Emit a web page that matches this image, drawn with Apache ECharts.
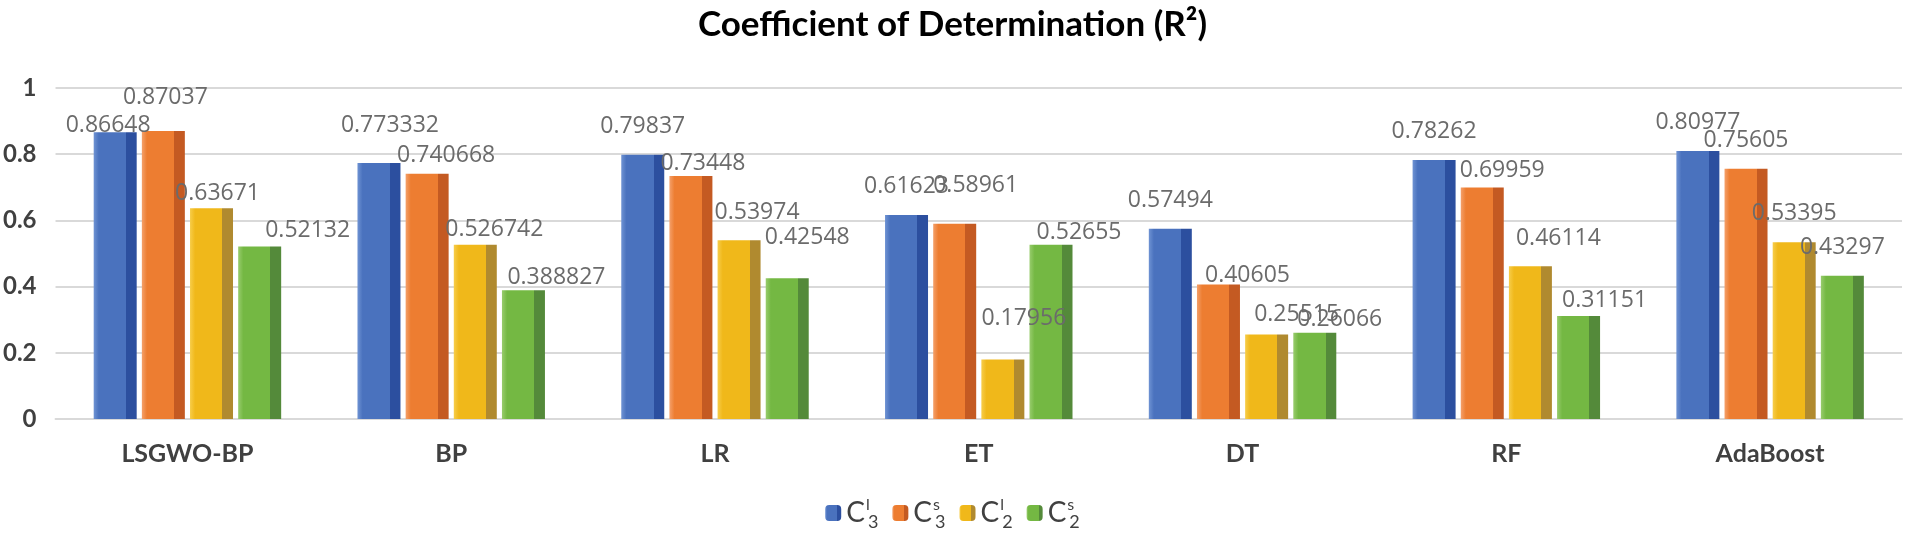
<!DOCTYPE html>
<html><head><meta charset="utf-8">
<script src="https://cdn.jsdelivr.net/npm/echarts@6/dist/echarts.min.js"></script>
<style>html,body{margin:0;padding:0;background:#fff}#c{width:1905px;height:536px}</style>
</head><body><div id="c"></div>
<script>
const categories = ['LSGWO-BP','BP','LR','ET','DT','RF','AdaBoost'];
const seriesNames = ['C3l','C3s','C2l','C2s'];
const c3l = [0.86648, 0.773332, 0.79837, 0.61623, 0.57494, 0.78262, 0.80977];
const c3s = [0.87037, 0.740668, 0.73448, 0.58961, 0.40605, 0.69959, 0.75605];
const c2l = [0.63671, 0.526742, 0.53974, 0.17956, 0.25515, 0.46114, 0.53395];
const c2s = [0.52132, 0.388827, 0.42548, 0.52655, 0.26066, 0.31151, 0.43297];
const yTicks = [0, 0.2, 0.4, 0.6, 0.8, 1];

// label nudges (pixels) as in the reference where labels were moved by hand
const labelNudge = [
  [[-7,22],[11,-9],[0,0],[0,0],[0,0],[0,0],[0,0]],
  [[2,-5],[19,10],[12,16],[21,-10],[29,19],[20,12],[0,0]],
  [[6,14],[19,13],[18,1],[21,-13],[30,8],[28,1],[0,0]],
  [[48,13],[33,16],[20,-12],[28,16],[25,15],[26,13],[0,0]]
];
const palette = [
  {light:'#6f93d3', main:'#4a72be', dark:'#2c4f9f'},
  {light:'#f4a06a', main:'#ed7d31', dark:'#c45a22'},
  {light:'#f7cd4a', main:'#f0b81a', dark:'#b08a2f'},
  {light:'#98cc6d', main:'#74b843', dark:'#548a3a'}
];
const values = [c3l, c3s, c2l, c2s];
function grad(p){
  return new echarts.graphic.LinearGradient(0,0,1,0,[
    {offset:0,color:p.light},{offset:0.12,color:p.main},{offset:0.75,color:p.main},
    {offset:0.75,color:p.dark},{offset:1,color:p.dark}]);
}
const legendRich = {
  c:{fontSize:28, fontFamily:'Lato', color:'#404040', lineHeight:36, verticalAlign:'middle'},
  sp:{fontSize:16, fontFamily:'Lato', color:'#404040', verticalAlign:'top', lineHeight:36, width:1, padding:[2,0,0,1]},
  sb:{fontSize:18, fontFamily:'Lato', color:'#404040', verticalAlign:'bottom', lineHeight:36, padding:[0,0,0,1]}
};
const legendText = {C3l:'{c|C}{sp|l}{sb|3}', C3s:'{c|C}{sp|s}{sb|3}', C2l:'{c|C}{sp|l}{sb|2}', C2s:'{c|C}{sp|s}{sb|2}'};

const chart = echarts.init(document.getElementById('c'));
chart.setOption({
  animation:false,
  title:{text:'Coefficient of Determination (R²)', left:'center', top:2,
    textStyle:{fontFamily:'Lato', fontWeight:'bold', fontSize:35, color:'#000'}},
  legend:{bottom:0, left:'center', itemWidth:16, itemHeight:16, itemGap:14,
    data:seriesNames, formatter:n=>legendText[n], textStyle:{rich:legendRich}},
  grid:{left:55, right:3, top:88, bottom:117, containLabel:false},
  xAxis:{type:'category', data:categories,
    axisLine:{lineStyle:{color:'#d9d9d9', width:2}}, axisTick:{show:false},
    axisLabel:{fontFamily:'Lato', fontWeight:'bold', fontSize:25, color:'#404040', margin:22}},
  yAxis:{type:'value', min:0, max:1, interval:0.2,
    splitLine:{lineStyle:{color:'#d9d9d9', width:2}},
    axisLabel:{fontFamily:'Lato', fontWeight:'bold', fontSize:24, color:'#404040', margin:19,
      formatter:v=>String(yTicks.find(t=>Math.abs(t-v)<1e-9) ?? v)}},
  series: seriesNames.map((name,i)=>({
    name, type:'bar', barWidth:43, barGap:'12%',
    itemStyle:{color:grad(palette[i])},
    label:{show:true, position:'top', distance:17, fontFamily:'Open Sans', fontSize:23, color:'#6b6b6b'},
    data: values[i].map((v,j)=>({value:v, label:{offset:labelNudge[i][j]}}))
  }))
});
</script></body></html>
